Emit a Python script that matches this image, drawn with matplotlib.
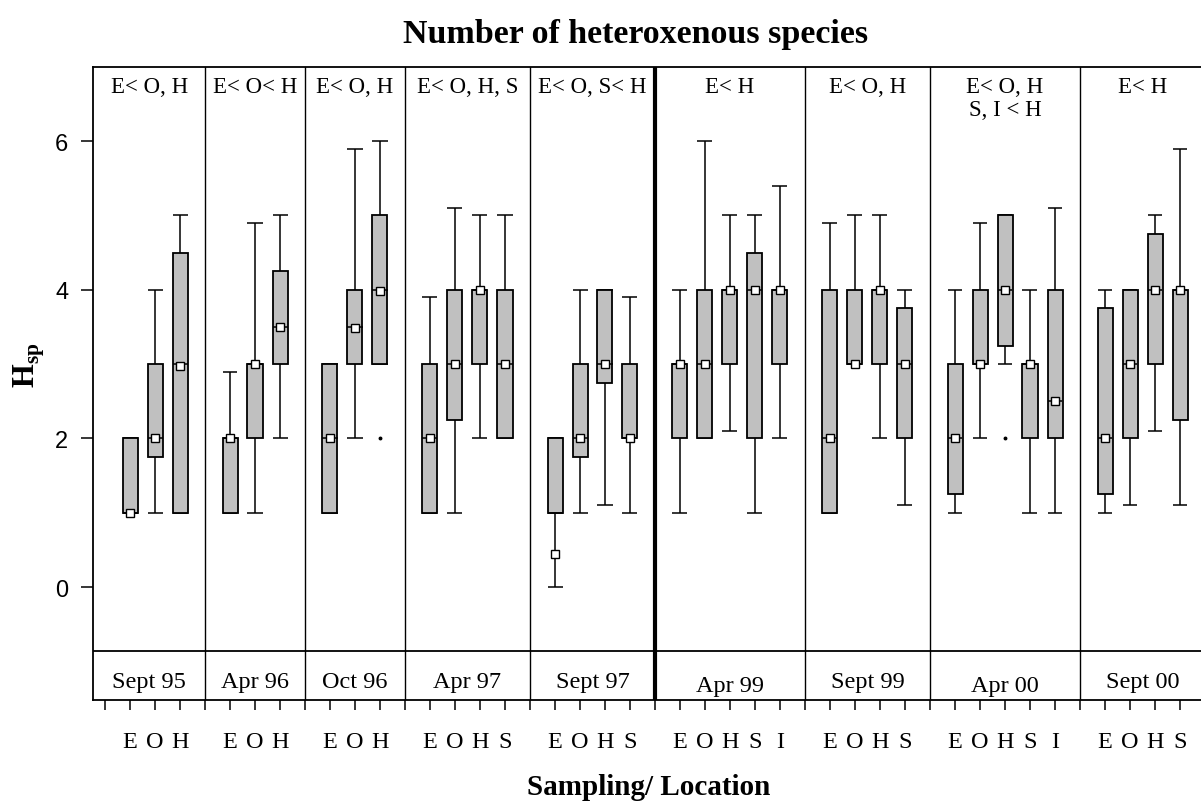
import numpy as np
import matplotlib
matplotlib.use('Agg')
from matplotlib import pyplot as plt

plt.rcParams['font.family'] = 'Liberation Serif'
plt.rcParams['mathtext.fontset'] = 'custom'
plt.rcParams['mathtext.rm'] = 'Liberation Serif'
plt.rcParams['mathtext.bf'] = 'Liberation Serif:bold'

groups = ['Sept 95', 'Apr 96', 'Oct 96', 'Apr 97', 'Sept 97',
          'Apr 99', 'Sept 99', 'Apr 00', 'Sept 00']
sites = [['E', 'O', 'H'], ['E', 'O', 'H'], ['E', 'O', 'H'],
         ['E', 'O', 'H', 'S'], ['E', 'O', 'H', 'S'],
         ['E', 'O', 'H', 'S', 'I'], ['E', 'O', 'H', 'S'],
         ['E', 'O', 'H', 'S', 'I'], ['E', 'O', 'H', 'S']]
tests = ['E< O, H', 'E< O< H', 'E< O, H', 'E< O, H, S', 'E< O, S< H',
         'E< H', 'E< O, H', 'E< O, H\nS, I < H', 'E< H']

# one value per box, in plotting order
w_lo = [1, 1, 1,   1, 1, 2,   1, 2, 3,   1, 1, 2, 2,   0, 1, 1.1, 1,
        1, 2, 2.1, 1, 2,   1, 3, 2, 1.1,   1, 2, 3, 1, 1,   1, 1.1, 2.1, 1.1]
q1 = [1, 1.75, 1,   1, 2, 3,   1, 3, 3,   1, 2.25, 3, 2,   1, 1.75, 2.75, 2,
      2, 2, 3, 2, 3,   1, 3, 3, 2,   1.25, 3, 3.25, 2, 2,   1.25, 2, 3, 2.25]
q3 = [2, 3, 4.5,   2, 3, 4.25,   3, 4, 5,   3, 4, 4, 4,   2, 3, 4, 3,
      3, 4, 4, 4.5, 4,   4, 4, 4, 3.75,   3, 4, 5, 3, 4,   3.75, 4, 4.75, 4]
w_hi = [2, 4, 5,   2.9, 4.9, 5,   3, 5.9, 6,   3.9, 5.1, 5, 5,   2, 4, 4, 3.9,
        4, 6, 5, 5, 5.4,   4.9, 5, 5, 4,   4, 4.9, 5, 4, 5.1,   4, 4, 5, 5.9]
med = [1, 2, 3,   2, 3, 3.5,   2, 3.5, 4,   2, 3, 4, 3,   1, 2, 3, 2,
       3, 3, 4, 4, 4,   2, 3, 4, 3,   2, 3, 4, 3, 2.5,   2, 3, 4, 4]
mean = [1, 2, 2.97,   2, 3, 3.5,   2, 3.49, 3.99,   2, 3, 4, 3,   0.45, 2, 3, 2,
        3, 3, 4, 4, 4,   2, 3, 4, 3,   2, 3, 4, 3, 2.5,   2, 3, 4, 4]
# single extreme points: (group, site index, value)
extremes = [(2, 2, 2), (7, 2, 2)]

# slot layout: a separator slot, then one slot per site
xs, labels, seps, starts = [], [], [], []
start = 0
for g, s in enumerate(sites):
    starts.append(len(xs))
    for i, lab in enumerate(s):
        xs.append(start + 1 + i)
        labels.append(lab)
    start = start + len(s) + 1
    seps.append(start)
xs = np.array(xs)

fig = plt.figure(figsize=(12.01, 8.03), dpi=100)
ax = fig.add_axes([93.3 / 1201, 102 / 803, 1 - 93.3 / 1201, 633.5 / 803])
ax.set_xlim(-0.468, 43.84)
ax.set_ylim(-1.52, 7.005)

bw = 0.6
q1a, q3a = np.array(q1), np.array(q3)
ax.bar(xs, q3a - q1a, bottom=q1a, width=bw, color='#c0c0c0',
       edgecolor='black', linewidth=1.3, zorder=3)
ax.vlines(xs, w_lo, q1, color='black', lw=1.1, zorder=2)
ax.vlines(xs, q3, w_hi, color='black', lw=1.1, zorder=2)
ax.hlines(w_lo, xs - bw / 2, xs + bw / 2, color='black', lw=1.1, zorder=2)
ax.hlines(w_hi, xs - bw / 2, xs + bw / 2, color='black', lw=1.1, zorder=2)
ax.hlines(med, xs - bw / 2, xs + bw / 2, color='black', lw=1.1, zorder=4)
ax.plot(xs, mean, 's', mfc='white', mec='black', mew=1.0, ms=5.5,
        ls='none', zorder=5)
for g, i, v in extremes:
    ax.plot(xs[starts[g] + i], v, 'o', color='black', ms=1.8, zorder=5)

# panel separators and label row
for k, sp in enumerate(seps[:-1]):
    ax.axvline(sp, color='black', lw=3.0 if k == 4 else 1.0)
ax.axhline(-0.866, color='black', lw=1.3)

bounds = [-0.468] + seps
bounds[-1] = 44.0
for g in range(len(groups)):
    cx = (bounds[g] + bounds[g + 1]) / 2
    yb = -1.40 if groups[g] in ('Apr 99', 'Apr 00') else -1.35
    ax.text(cx, yb, groups[g], ha='center', va='baseline', fontsize=17.5)
    for j, line in enumerate(tests[g].split('\n')):
        ax.text(cx, 6.66 - 0.314 * j, line, ha='center', va='baseline', fontsize=16.5)

ax.spines['right'].set_visible(False)
for sp in ['left', 'top', 'bottom']:
    ax.spines[sp].set_linewidth(1.3)

ax.set_xticks(xs)
ax.set_xticklabels(labels, fontsize=17.5)
ax.set_xticks(np.arange(0, 44), minor=True)
ax.tick_params(axis='x', which='both', direction='out', length=7, width=1.1)
ax.tick_params(axis='x', which='major', pad=15)

ax.set_yticks([0, 2, 4, 6])
ax.set_yticklabels(['0', '2', '4', '6'], family='Liberation Sans', fontsize=17)
ax.tick_params(axis='y', direction='out', length=9, width=1.1, pad=9)

fig.text(636 / 1201, 1 - 43 / 803, 'Number of heteroxenous species',
         ha='center', va='baseline', fontsize=24.5, weight='bold')
fig.text(649 / 1201, 1 - 795 / 803, 'Sampling/ Location',
         ha='center', va='baseline', fontsize=21, weight='bold')
fig.text(29 / 1201, 1 - 365 / 803, r'$\mathbf{H}_{\mathbf{sp}}$',
         rotation=90, ha='center', va='center', fontsize=22)

fig.savefig('out.png', dpi=100)
